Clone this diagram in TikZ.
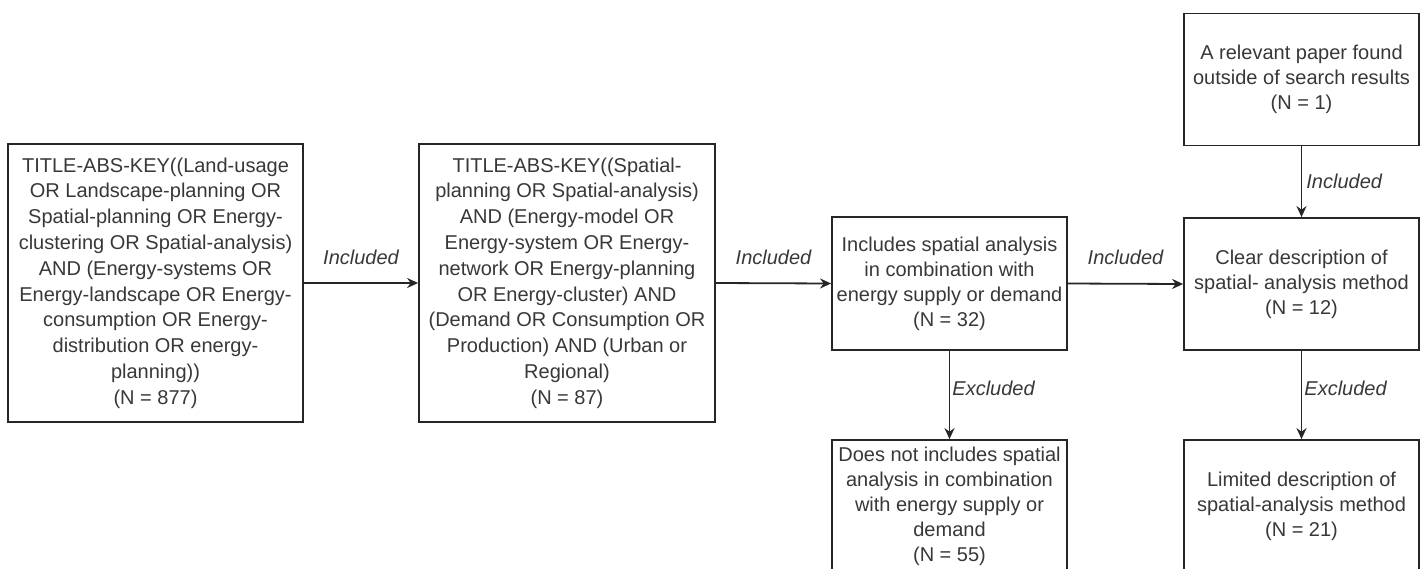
\documentclass[tikz,border=0pt]{standalone}
\usepackage{fontspec}
\setmainfont{Liberation Sans}
\usetikzlibrary{arrows.meta}
\begin{document}
\begin{tikzpicture}[x=1pt,y=-1pt,
  box/.style={draw=black!85, line width=1.8pt, fill=white, inner sep=0pt,
    align=center, text=black!78, font=\fontsize{20}{25}\selectfont},
  tall/.style={font=\fontsize{20}{25.8}\selectfont},
  arrow/.style={draw=black!85, line width=1.8pt, -{Stealth[length=11pt,width=10pt]}},
  lbl/.style={text=black!78, font=\fontsize{20}{24}\selectfont\itshape, inner sep=0pt}]
\useasboundingbox (0,0) rectangle (1427,568);
\clip (0,0) rectangle (1427,568);

% search strings and screening steps
\node[box, tall, minimum width=295pt, minimum height=278pt] (b1) at (155.5,283)
  {TITLE-ABS-KEY((Land-usage\\ OR Landscape-planning OR\\ Spatial-planning OR Energy-\\
   clustering OR Spatial-analysis)\\ AND (Energy-systems OR\\ Energy-landscape OR Energy-\\
   consumption OR Energy-\\ distribution OR energy-\\ planning))\\ (N = 877)};
\node[box, tall, minimum width=296pt, minimum height=278pt] (b2) at (567,283)
  {TITLE-ABS-KEY((Spatial-\\ planning OR Spatial-analysis)\\ AND (Energy-model OR\\
   Energy-system OR Energy-\\ network OR Energy-planning\\ OR Energy-cluster) AND\\
   (Demand OR Consumption OR\\ Production) AND (Urban or\\ Regional)\\ (N = 87)};
\node[box, minimum width=235pt, minimum height=133pt] (b3) at (949.5,283.5)
  {Includes spatial analysis\\ in combination with\\ energy supply or demand\\ (N = 32)};
\node[box, minimum width=235pt, minimum height=133pt] (b4) at (949.5,506.5)
  {Does not includes spatial\\ analysis in combination\\ with energy supply or\\ demand\\ (N = 55)};
\node[box, minimum width=235pt, minimum height=132pt] (b5) at (1301.5,79.5)
  {A relevant paper found\\ outside of search results\\ (N = 1)};
\node[box, minimum width=235pt, minimum height=132pt] (b6) at (1301.5,284)
  {Clear description of\\ spatial- analysis method\\ (N = 12)};
\node[box, minimum width=235pt, minimum height=133pt] (b7) at (1301.5,506.5)
  {Limited description of\\ spatial-analysis method\\ (N = 21)};

% connectors
\draw[arrow] (b1.east) -- (b2.west) node[lbl, midway, yshift=26pt] {Included};
\draw[arrow] (b2.east) -- (b3.west) node[lbl, midway, yshift=26pt] {Included};
\draw[arrow] (b3.east) -- (b6.west) node[lbl, midway, yshift=26pt] {Included};
\draw[arrow] (b3.south) -- (b4.north) node[lbl, midway, anchor=west, xshift=2pt, yshift=7pt] {Excluded};
\draw[arrow] (b5.south) -- (b6.north) node[lbl, midway, anchor=west, xshift=4pt] {Included};
\draw[arrow] (b6.south) -- (b7.north) node[lbl, midway, anchor=west, xshift=2pt, yshift=7pt] {Excluded};
\end{tikzpicture}
\end{document}
